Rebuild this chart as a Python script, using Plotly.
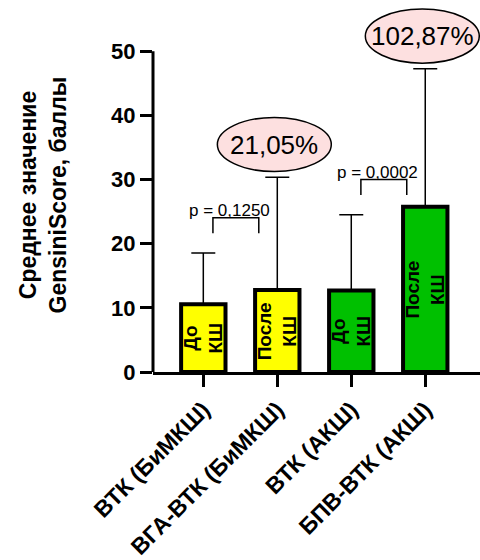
import plotly.graph_objects as go

# Groups and mean GensiniScore values
groups = ["ВТК (БиМКШ)", "ВГА-ВТК (БиМКШ)", "ВТК (АКШ)", "БПВ-ВТК (АКШ)"]
means = [10.55, 12.77, 12.70, 25.77]
sd_upper = [8.0, 17.6, 11.8, 21.5]
bar_labels = ["До<br>КШ", "После<br>КШ", "До<br>КШ", "После<br>КШ"]
bar_colors = ["#ffff00", "#ffff00", "#00c000", "#00c000"]

# Pairwise comparisons (left index, right index, p-value text)
comparisons = [(0, 1, "p = 0,1250"), (2, 3, "p = 0,0002")]
# Relative change shown above the "after" group
changes = [(1, "21,05%"), (3, "102,87%")]

y_ticks = [0, 10, 20, 30, 40, 50]

FONT = "Arial, Liberation Sans, sans-serif"
x_idx = list(range(len(groups)))

fig = go.Figure()
fig.add_trace(go.Bar(
    x=x_idx, y=means, width=0.6,
    marker=dict(color=bar_colors, line=dict(color="black", width=4)),
    error_y=dict(type="data", symmetric=False, array=sd_upper,
                 arrayminus=[0] * len(means), color="black",
                 thickness=1.5, width=12),
    showlegend=False,
))

annotations = []
shapes = []

# Labels inside the bars
for i, m in enumerate(means):
    annotations.append(dict(
        x=i, y=m / 2, xref="x", yref="y", text=bar_labels[i],
        showarrow=False, textangle=-90,
        font=dict(family=FONT, size=19, color="black", weight="bold"),
        xanchor="center", yanchor="middle",
    ))

tops = [m + s for m, s in zip(means, sd_upper)]

# Significance brackets
for a, b, label in comparisons:
    yb = tops[a] + 5.5
    x0, x1 = a + 0.13, b - 0.25
    shapes.append(dict(
        type="path", xref="x", yref="y",
        path=f"M {x0},{yb - 2.4} L {x0},{yb} L {x1},{yb} L {x1},{yb - 2.4}",
        line=dict(color="black", width=1.5),
    ))
    annotations.append(dict(
        x=a + 0.36, y=yb, xref="x", yref="y", text=label,
        showarrow=False, xanchor="center", yanchor="bottom", yshift=-4,
        font=dict(family=FONT, size=17, color="black"),
    ))

# Percent change ellipses
for i, label in changes:
    cx, cy = i - 0.04, tops[i] + 5.1
    rx, ry = 0.77, 4.22
    shapes.append(dict(
        type="circle", xref="x", yref="y",
        x0=cx - rx, x1=cx + rx, y0=cy - ry, y1=cy + ry,
        fillcolor="#fde0e0", line=dict(color="black", width=1.5),
    ))
    annotations.append(dict(
        x=cx, y=cy, xref="x", yref="y", text=label, showarrow=False,
        xanchor="center", yanchor="middle",
        font=dict(family=FONT, size=26, color="black"),
    ))

# Left axis line, stopping at the top tick
shapes.append(dict(
    type="line", xref="paper", yref="y", x0=0, x1=0, y0=0, y1=y_ticks[-1],
    line=dict(color="black", width=3),
))

# Y axis title
annotations.append(dict(
    x=-0.335, y=27.6, xref="paper", yref="y",
    text="Среднее значение<br>GensiniScore, баллы",
    showarrow=False, textangle=-90, xanchor="center", yanchor="middle",
    font=dict(family=FONT, size=23, color="black", weight="bold"),
))

fig.update_layout(
    width=480, height=560,
    margin=dict(l=153, r=0, t=0, b=186),
    plot_bgcolor="white", paper_bgcolor="white",
    shapes=shapes, annotations=annotations,
    xaxis=dict(
        range=[-0.68, 3.74], tickmode="array", tickvals=x_idx, ticktext=groups,
        tickangle=-45, ticks="outside", ticklen=12, tickwidth=3,
        tickcolor="black", showline=True, linecolor="black", linewidth=3,
        showgrid=False, zeroline=False,
        tickfont=dict(family=FONT, size=23, color="black", weight="bold"),
    ),
    yaxis=dict(
        range=[0, 58.0], tickmode="array", tickvals=y_ticks,
        ticks="outside", ticklen=12, tickwidth=3, tickcolor="black",
        showline=False, showgrid=False, zeroline=False,
        tickfont=dict(family=FONT, size=22, color="black", weight="bold"),
    ),
)

fig.write_html("out.html")
